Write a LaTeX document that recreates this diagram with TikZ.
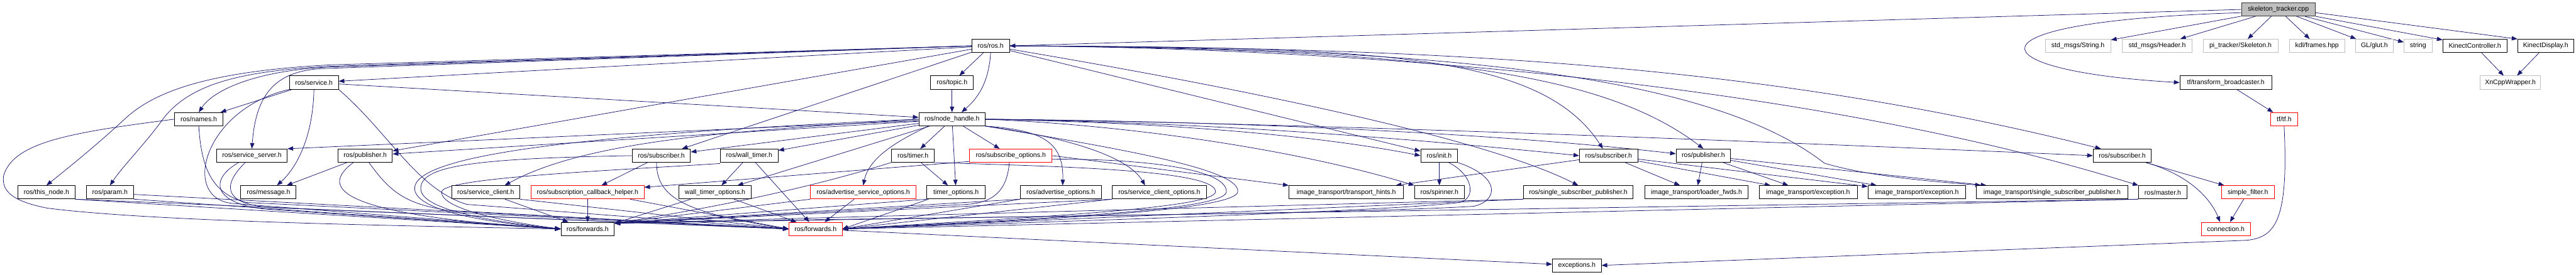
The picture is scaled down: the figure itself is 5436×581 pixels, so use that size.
\documentclass[tikz,border=0pt]{standalone}
\usepackage{fontspec}
\setmainfont{Liberation Sans}
\usetikzlibrary{arrows.meta, backgrounds}

\definecolor{edgeblue}{HTML}{191970}
\definecolor{extgray}{HTML}{BFBFBF}

\tikzset{
  hdr/.style={draw=black, line width=1.2pt, fill=white, minimum height=28pt,
    inner sep=2pt, font=\fontsize{14pt}{16pt}\selectfont},
  exthdr/.style={hdr, draw=extgray},
  cuthdr/.style={hdr, draw=red},
  roothdr/.style={hdr, fill=extgray, draw=black!80},
  inc/.style={draw=edgeblue, line width=1pt, -{Triangle[length=12pt,width=9pt]}},
}

\begin{document}
\begin{tikzpicture}[x=1pt, y=-1pt]
\useasboundingbox (0,0) rectangle (5436,581);

% row 0 and 1
\node[roothdr, minimum width=156pt] (stcpp) at (4808,20) {skeleton\_tracker.cpp};
\node[hdr, minimum width=79pt] (rosros) at (2090.5,97) {ros/ros.h};
\node[exthdr, minimum width=138pt] (strmsg) at (4385,97) {std\_msgs/String.h};
\node[exthdr, minimum width=146pt] (hdrmsg) at (4552,97) {std\_msgs/Header.h};
\node[exthdr, minimum width=158pt] (skelmsg) at (4728,97) {pi\_tracker/Skeleton.h};
\node[exthdr, minimum width=117pt] (kdl) at (4889.5,97) {kdl/frames.hpp};
\node[exthdr, minimum width=79pt] (glut) at (5010.5,97) {GL/glut.h};
\node[exthdr, minimum width=59pt] (string) at (5102.5,97) {string};
\node[hdr, minimum width=135pt] (kctrl) at (5222.5,97) {KinectController.h};
\node[hdr, minimum width=118pt] (kdisp) at (5372,97) {KinectDisplay.h};

% row 2 and 3
\node[hdr, minimum width=103pt] (service) at (662.5,174.5) {ros/service.h};
\node[hdr, minimum width=90pt] (topic) at (2009,174.5) {ros/topic.h};
\node[hdr, minimum width=194pt] (tfbc) at (4697,174.5) {tf/transform\_broadcaster.h};
\node[exthdr, minimum width=127pt] (xncpp) at (5297.5,174.5) {XnCppWrapper.h};
\node[hdr, minimum width=103pt] (names) at (419.5,252) {ros/names.h};
\node[hdr, minimum width=140pt] (nh) at (2009,252) {ros/node\_handle.h};
\node[cuthdr, minimum width=56pt] (tftf) at (4820,252) {tf/tf.h};

% row 4
\node[hdr, minimum width=149pt] (srvserver) at (531.5,329) {ros/service\_server.h};
\node[hdr, minimum width=115pt] (pub) at (770.5,329) {ros/publisher.h};
\node[hdr, minimum width=123pt] (sub) at (1395.5,329) {ros/subscriber.h};
\node[hdr, minimum width=122pt] (walltimer) at (1581,329) {ros/wall\_timer.h};
\node[hdr, minimum width=91pt] (timer) at (1926.5,329) {ros/timer.h};
\node[cuthdr, minimum width=174pt] (subopts) at (2133,329) {ros/subscribe\_options.h};
\node[hdr, minimum width=78pt] (init) at (3037,329) {ros/init.h};
\node[hdr, minimum width=123pt] (itsub) at (3394.5,329) {ros/subscriber.h};
\node[hdr, minimum width=115pt] (itpub) at (3594.5,329) {ros/publisher.h};
\node[hdr, minimum width=123pt] (mfsub) at (4478.5,329) {ros/subscriber.h};

% row 5
\node[hdr, minimum width=120pt] (thisnode) at (98,406.5) {ros/this\_node.h};
\node[hdr, minimum width=100pt] (param) at (232,406.5) {ros/param.h};
\node[hdr, minimum width=117pt] (message) at (566.5,406.5) {ros/message.h};
\node[hdr, minimum width=144pt] (srvclient) at (1025,406.5) {ros/service\_client.h};
\node[cuthdr, minimum width=238pt] (subcb) at (1240,406.5) {ros/subscription\_callback\_helper.h};
\node[hdr, minimum width=152pt] (wtopts) at (1509,406.5) {wall\_timer\_options.h};
\node[cuthdr, minimum width=223pt] (advsrvopts) at (1821.5,406.5) {ros/advertise\_service\_options.h};
\node[hdr, minimum width=123pt] (topts) at (2017.5,406.5) {timer\_options.h};
\node[hdr, minimum width=171pt] (advopts) at (2238.5,406.5) {ros/advertise\_options.h};
\node[hdr, minimum width=199pt] (srvclopts) at (2446.5,406.5) {ros/service\_client\_options.h};
\node[hdr, minimum width=242pt] (hints) at (2841,406.5) {image\_transport/transport\_hints.h};
\node[hdr, minimum width=105pt] (spinner) at (3037.5,406.5) {ros/spinner.h};
\node[hdr, minimum width=231pt] (ssp) at (3330.5,406.5) {ros/single\_subscriber\_publisher.h};
\node[hdr, minimum width=218pt] (loader) at (3580,406.5) {image\_transport/loader\_fwds.h};
\node[hdr, minimum width=207pt] (itexc) at (3815.5,406.5) {image\_transport/exception.h};
\node[hdr, minimum width=206pt] (itexc2) at (4045,406.5) {image\_transport/exception.h};
\node[hdr, minimum width=319pt] (itssp) at (4330.5,406.5) {image\_transport/single\_subscriber\_publisher.h};
\node[hdr, minimum width=102pt] (master) at (4564,406.5) {ros/master.h};
\node[cuthdr, minimum width=111pt] (sfilter) at (4743.5,406.5) {simple\_filter.h};

% row 6 and 7
\node[hdr, minimum width=112pt] (fwd) at (1240,484) {ros/forwards.h};
\node[cuthdr, minimum width=112pt] (fwdred) at (1721,484) {ros/forwards.h};
\node[cuthdr, minimum width=104pt] (conn) at (4697,484) {connection.h};
\node[hdr, minimum width=103pt] (exc) at (3327.5,561) {exceptions.h};

\begin{pgfonlayer}{background}
% skeleton_tracker.cpp
\draw[inc] (stcpp.west) -- (rosros.east);
\draw[inc] (stcpp) -- (strmsg);
\draw[inc] (stcpp) -- (hdrmsg);
\draw[inc] (stcpp) -- (skelmsg);
\draw[inc] (stcpp) -- (kdl);
\draw[inc] (stcpp) -- (glut);
\draw[inc] (stcpp) -- (string);
\draw[inc] (stcpp) -- (kctrl);
\draw[inc] (stcpp.-5) -- (kdisp.north west);
\draw[inc] (stcpp.185) .. controls (4120,45) and (4170,150) .. (tfbc.west);
\draw[inc] (kctrl) -- (xncpp);
\draw[inc] (kdisp) -- (xncpp);
\draw[inc] (tfbc) -- (tftf);
\draw[inc] (tftf.south) .. controls (4830,470) and (4800,502) .. (4740,508) -- (exc.east);

% ros/ros.h
\draw[inc] (rosros) -- (topic);
\draw[inc] (rosros.south) .. controls (2086,180) and (2060,210) .. ([xshift=20pt]nh.north);
\draw[inc] (rosros) -- (service);
\draw[inc] (rosros) -- (pub);
\draw[inc] (rosros) -- (sub);
\draw[inc] (rosros) -- (init);
\draw[inc] (rosros) .. controls (2700,200) and (3150,300) .. (ssp.north);
\draw[inc] (rosros.west) -- (700,137) .. controls (450,150) and (330,190) .. (265,250) .. controls (200,310) and (150,350) .. (thisnode.north);
\draw[inc] (rosros.west) -- (700,140) .. controls (500,150) and (400,180) .. (345,250) .. controls (310,300) and (260,350) .. (param.north);
\draw[inc] (rosros.west) -- (690,142) .. controls (540,150) and (450,190) .. (names.north);
\draw[inc] (rosros.west) -- (680,145) .. controls (580,150) and (540,200) .. (srvserver.north);
\draw[inc] (rosros.east) .. controls (2900,100) and (3250,110) .. ([xshift=-12pt]itsub.north);
\draw[inc] (rosros.east) .. controls (3000,103) and (3380,150) .. (itpub.north);
\draw[inc] (rosros.east) .. controls (3000,100) and (3700,130) .. ([xshift=-45pt]mfsub.north);
\draw[inc] (rosros.east) .. controls (3000,102) and (3900,200) .. (master.north west);
\draw[inc] (rosros.east) .. controls (3000,100) and (3600,150) .. (3850,345) .. controls (3950,375) and (4100,385) .. ([xshift=-150pt]itssp.north);
\draw[inc] (topic) -- (nh);

% ros/service.h and ros/names.h
\draw[inc] (service) -- (nh);
\draw[inc] (service) -- (names);
\draw[inc] (service.south) .. controls (660,300) and (620,360) .. ([xshift=18pt]message.north);
\draw[inc] (service.south west) .. controls (430,230) and (380,420) .. (491,430) -- (fwd.west);
\draw[inc] (service.south east) .. controls (820,280) and (880,400) .. (985,432) -- (fwdred.west);
\draw[inc] (names.west) .. controls (150,280) and (30,300) .. (8,370) .. controls (0,410) and (40,428) .. (100,440) .. controls (300,465) and (700,475) .. (fwd.west);
\draw[inc] (names.south) .. controls (425,360) and (450,410) .. (520,428) -- (fwdred.west);

% left part of the lower rows
\draw[inc] (thisnode.south east) -- (fwd.west);
\draw[inc] (thisnode.south east) -- (fwdred.west);
\draw[inc] (param.south east) -- (fwd.west);
\draw[inc] (param.-5) -- (fwdred.west);
\draw[inc] ([xshift=-28pt]srvserver.south) .. controls (440,380) and (450,430) .. (560,442) -- (fwd.west);
\draw[inc] ([xshift=-14pt]srvserver.south) .. controls (465,395) and (470,438) .. (600,440) -- (fwdred.west);
\draw[inc] (pub) -- (message);
\draw[inc] ([xshift=-25pt]pub.south) .. controls (670,400) and (720,455) .. (fwd.west);
\draw[inc] ([xshift=8pt]pub.south) .. controls (820,400) and (850,432) .. (950,445) -- (fwdred.west);
\draw[inc] (sub) -- (subcb);
\draw[inc] (sub.west) .. controls (1000,335) and (885,350) .. (888,400) .. controls (890,445) and (1050,470) .. (fwd.west);
\draw[inc] ([xshift=-10pt]sub.south) .. controls (1385,420) and (1450,450) .. (fwdred.west);
\draw[inc] (subcb) -- (fwd);
\draw[inc] ([xshift=-30pt]subcb.south east) -- (fwdred.west);
\draw[inc] (srvclient) -- (fwd);
\draw[inc] (srvclient.south east) -- (fwdred.west);

% timers and options
\draw[inc] (walltimer) -- (wtopts);
\draw[inc] (walltimer) -- (fwdred);
\draw[inc] ([yshift=-2pt]walltimer.south west) .. controls (1300,360) and (940,375) .. (932,405) .. controls (928,440) and (1060,468) .. (fwd.west);
\draw[inc] (wtopts) -- (fwdred);
\draw[inc] ([xshift=25pt]wtopts.south west) -- (fwd.12);
\draw[inc] (timer) -- (topts);
\draw[inc] (timer.south west) .. controls (1700,400) and (1500,440) .. (fwd.12);
\draw[inc] (timer.south east) .. controls (2250,352) and (2565,360) .. (2565,405) .. controls (2565,440) and (2200,458) .. (fwdred.east);
\draw[inc] ([xshift=4pt]topts.south west) -- (fwdred.east);
\draw[inc] (topts.south west) -- (fwd.12);
\draw[inc] (advsrvopts) -- (fwdred);
\draw[inc] (advsrvopts.south west) -- (fwd.12);
\draw[inc] (advopts.south west) -- (fwdred.east);
\draw[inc] (advopts.south west) -- (fwd.12);
\draw[inc] (srvclopts.south west) -- (fwdred.east);
\draw[inc] (srvclopts.south west) -- (fwd.12);
\draw[inc] (subopts.188) -- ([yshift=-4pt]subcb.north east);
\draw[inc] (subopts.east) -- (hints.north west);
\draw[inc] ([xshift=-3pt]subopts.south) .. controls (2125,400) and (2100,428) .. (2040,432) -- (fwd.12);
\draw[inc] (subopts.-5) .. controls (2400,335) and (2588,355) .. (2588,405) .. controls (2588,445) and (2200,462) .. (fwdred.east);

% ros/node_handle.h
\draw[inc] (nh) -- (timer);
\draw[inc] (nh) -- (topts);
\draw[inc] (nh) -- (subopts);
\draw[inc] (nh) -- (wtopts);
\draw[inc] (nh) -- (walltimer);
\draw[inc] (nh) -- (sub);
\draw[inc] (nh) -- (pub);
\draw[inc] (nh) -- (srvserver.north east);
\draw[inc] (nh.west) .. controls (1600,275) and (1250,290) .. ([xshift=40pt]srvclient.north);
\draw[inc] (nh.south east) .. controls (2200,275) and (2245,300) .. ([xshift=4pt]advopts.north);
\draw[inc] (nh.south east) .. controls (2250,290) and (2380,330) .. ([xshift=-30pt]srvclopts.north);
\draw[inc] ([xshift=-50pt]nh.south) .. controls (1900,295) and (1835,330) .. (advsrvopts.north);
\draw[inc] (nh.west) .. controls (1200,285) and (870,330) .. (875,400) .. controls (880,450) and (1050,472) .. (fwd.west);
\draw[inc] (nh.south east) .. controls (2400,320) and (2615,360) .. (2612,405) .. controls (2610,445) and (2200,465) .. (fwdred.east);
\draw[inc] (nh.east) .. controls (2500,260) and (2800,290) .. (init.west);
\draw[inc] (nh.east) .. controls (2400,265) and (2750,320) .. (spinner.north west);
\draw[inc] (nh.east) .. controls (2500,258) and (2900,285) .. (itsub.west);
\draw[inc] (nh.east) .. controls (2500,255) and (3100,275) .. ([yshift=4pt]itpub.west);
\draw[inc] (nh.east) .. controls (2600,258) and (3400,285) .. (mfsub.west);

% init, publishers, master
\draw[inc] (init) -- (spinner);
\draw[inc] ([xshift=20pt]init.south) .. controls (3110,370) and (3115,420) .. (3080,428) .. controls (2900,450) and (2000,475) .. (fwdred.east);
\draw[inc] (init.south east) .. controls (3170,375) and (3160,425) .. (3110,436) .. controls (2800,455) and (1800,460) .. (fwd.12);
\draw[inc] (ssp.south west) -- (fwd.12);
\draw[inc] (ssp.south west) -- (fwdred.east);
\draw[inc] (master.south west) -- (fwd.12);
\draw[inc] (master.south west) -- (fwdred.east);

% image_transport
\draw[inc] (itsub) -- (hints);
\draw[inc] (itsub) -- (loader);
\draw[inc] (itsub) -- (itexc);
\draw[inc] (itsub) -- (itexc2);
\draw[inc] (itpub) -- (loader);
\draw[inc] (itpub) -- (itexc);
\draw[inc] (itpub) -- (itexc2);
\draw[inc] (itpub) -- (itssp);

% message_filters
\draw[inc] (mfsub) -- (sfilter);
\draw[inc] ([xshift=50pt]mfsub.south) .. controls (4620,370) and (4665,420) .. ([xshift=-12pt]conn.north);
\draw[inc] (sfilter) -- (conn);

\draw[inc] (fwdred) -- (exc);
\end{pgfonlayer}
\end{tikzpicture}
\end{document}
